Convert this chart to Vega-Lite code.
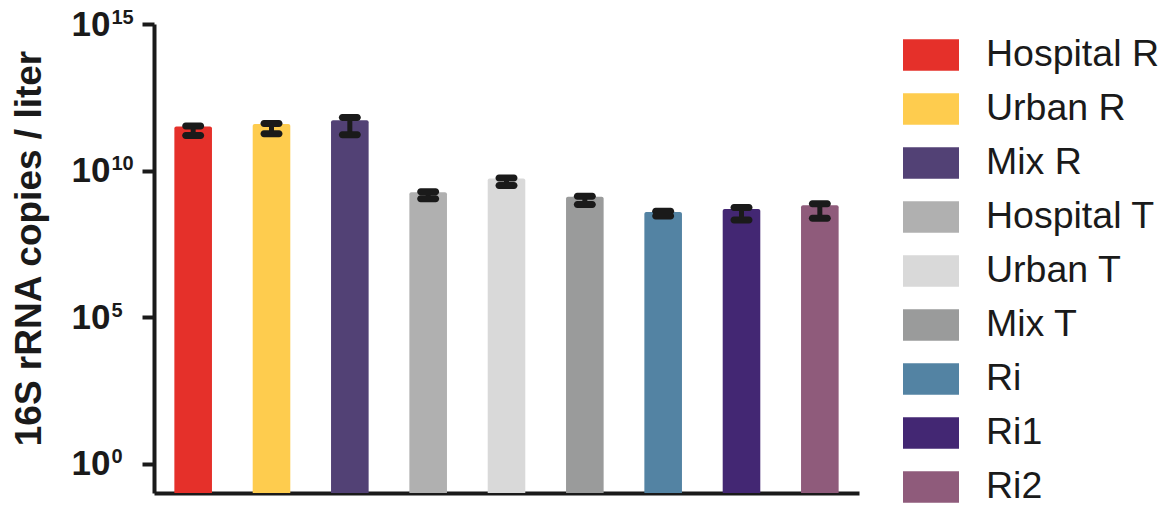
{
  "$schema": "https://vega.github.io/schema/vega-lite/v6.json",
  "width": 705,
  "height": 469,
  "autosize": {"type": "none"},
  "padding": {"left": 154, "top": 24, "right": 305, "bottom": 13},
  "background": "white",
  "config": {
    "view": {"stroke": null},
    "font": "Liberation Sans"
  },
  "data": {
    "values": [
      {"group": "Hospital R", "mean": 3.16e11, "hi": 3.31e11, "lo": 1.58e11},
      {"group": "Urban R", "mean": 3.89e11, "hi": 4.07e11, "lo": 1.82e11},
      {"group": "Mix R", "mean": 5.25e11, "hi": 6.46e11, "lo": 1.66e11},
      {"group": "Hospital T", "mean": 1.82e9, "hi": 1.91e9, "lo": 1.10e9},
      {"group": "Urban T", "mean": 5.37e9, "hi": 5.62e9, "lo": 3.09e9},
      {"group": "Mix T", "mean": 1.27e9, "hi": 1.32e9, "lo": 6.92e8},
      {"group": "Ri", "mean": 3.89e8, "hi": 4.07e8, "lo": 2.82e8},
      {"group": "Ri1", "mean": 4.84e8, "hi": 5.50e8, "lo": 2.04e8},
      {"group": "Ri2", "mean": 6.61e8, "hi": 7.41e8, "lo": 2.34e8}
    ]
  },
  "encoding": {
    "x": {
      "field": "group",
      "type": "nominal",
      "sort": null,
      "scale": {"paddingInner": 0.52, "paddingOuter": 0.26},
      "axis": {
        "title": null,
        "labels": false,
        "ticks": false,
        "domainColor": "#1a1a1a",
        "domainWidth": 4
      }
    }
  },
  "resolve": {"axis": {"y": "independent"}},
  "layer": [
    {
      "mark": {"type": "bar", "cornerRadiusTopLeft": 2, "cornerRadiusTopRight": 2},
      "encoding": {
        "y": {
          "field": "mean",
          "type": "quantitative",
          "scale": {"type": "log", "domain": [0.1, 1e15], "nice": false},
          "axis": {
            "orient": "left",
            "title": "16S rRNA copies / liter",
            "titleFont": "Liberation Sans",
            "titleFontWeight": "bold",
            "titleFontSize": 37,
            "titleColor": "#1a1a1a",
            "titleAngle": -90,
            "titleAlign": "center",
            "titleBaseline": "alphabetic",
            "titleX": -114,
            "titleY": 224,
            "values": [1, 100000, 10000000000, 1000000000000000],
            "labelExpr": "'10'",
            "labelFont": "Liberation Sans",
            "labelFontWeight": "bold",
            "labelFontSize": 35,
            "labelColor": "#1a1a1a",
            "labelPadding": 32,
            "labelBaseline": "middle",
            "tickSize": 12,
            "tickWidth": 4,
            "tickColor": "#1a1a1a",
            "domainColor": "#1a1a1a",
            "domainWidth": 4,
            "grid": false
          }
        },
        "y2": {"datum": 0.1},
        "color": {
          "field": "group",
          "type": "nominal",
          "sort": null,
          "scale": {
            "domain": ["Hospital R", "Urban R", "Mix R", "Hospital T", "Urban T", "Mix T", "Ri", "Ri1", "Ri2"],
            "range": ["#e5302a", "#fecc4e", "#524175", "#b0b0b0", "#d9d9d9", "#9a9b9b", "#5383a3", "#432773", "#8f5b7b"]
          },
          "legend": {
            "title": null,
            "orient": "none",
            "legendX": 749,
            "legendY": 3,
            "symbolType": "M-1,-0.56H1V0.56H-1Z",
            "symbolSize": 3136,
            "symbolStrokeWidth": 0,
            "labelFont": "Liberation Sans",
            "labelFontSize": 37.5,
            "labelColor": "#1a1a1a",
            "labelOffset": 27,
            "rowPadding": 7,
            "labelLimit": 300
          }
        }
      }
    },
    {
      "mark": {"type": "rule", "strokeWidth": 5, "color": "#1a1a1a"},
      "encoding": {
        "y": {"field": "lo", "type": "quantitative", "scale": {"type": "log", "domain": [0.1, 1e15], "nice": false}, "axis": null},
        "y2": {"field": "hi"}
      }
    },
    {
      "mark": {"type": "tick", "size": 22, "thickness": 7, "cornerRadius": 3.5, "color": "#1a1a1a", "opacity": 1},
      "encoding": {
        "y": {"field": "hi", "type": "quantitative", "scale": {"type": "log", "domain": [0.1, 1e15], "nice": false}, "axis": null}
      }
    },
    {
      "mark": {"type": "tick", "size": 22, "thickness": 7, "cornerRadius": 3.5, "color": "#1a1a1a", "opacity": 1},
      "encoding": {
        "y": {
          "field": "lo",
          "type": "quantitative",
          "scale": {"type": "log", "domain": [0.1, 1e15], "nice": false},
          "axis": {
            "orient": "left",
            "title": null,
            "domain": false,
            "ticks": false,
            "tickSize": 0,
            "grid": false,
            "values": [1, 100000, 10000000000, 1000000000000000],
            "labelExpr": "format(log(datum.value) / LN10, 'd')",
            "labelFont": "Liberation Sans",
            "labelFontWeight": "bold",
            "labelFontSize": 20,
            "labelColor": "#1a1a1a",
            "labelAlign": "left",
            "labelBaseline": "middle",
            "labelPadding": 43,
            "labelOffset": -7
          }
        }
      }
    }
  ]
}
